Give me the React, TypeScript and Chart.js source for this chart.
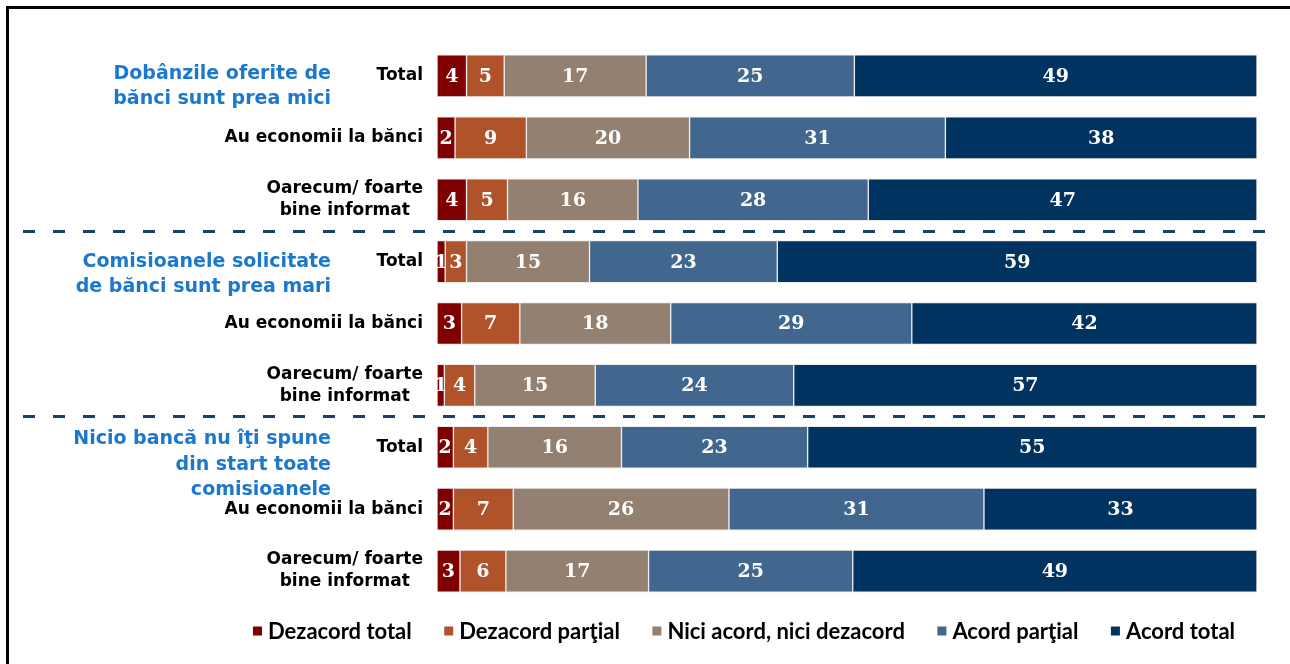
import React, { useEffect, useRef } from 'react';
import { Chart, registerables } from 'chart.js';
Chart.register(...registerables);

const rowLabels: string[][] = [
  ['Total'], ['Au economii la bănci'], ['Oarecum/ foarte', 'bine informat'],
  ['Total'], ['Au economii la bănci'], ['Oarecum/ foarte', 'bine informat'],
  ['Total'], ['Au economii la bănci'], ['Oarecum/ foarte', 'bine informat'],
];
const groupLabels: string[][] = [
  ['Dobânzile oferite de', 'bănci sunt prea mici'],
  ['Comisioanele solicitate', 'de bănci sunt prea mari'],
  ['Nicio bancă nu îţi spune', 'din start toate', 'comisioanele'],
];
const groupFirstRow = [0, 3, 6];
const seriesNames = ['Dezacord total', 'Dezacord parţial', 'Nici acord, nici dezacord', 'Acord parţial', 'Acord total'];
const seriesColors = ['#7f0000', '#b0532b', '#938070', '#41678f', '#00335f'];
const dezacordTotal = [3.6, 2.2, 3.6, 1.0, 3.0, 0.9, 2.0, 2.0, 2.8];
const dezacordPartial = [4.6, 8.7, 5.0, 2.6, 7.1, 3.7, 4.2, 7.3, 5.6];
const niciAcord = [17.3, 19.9, 15.9, 15.0, 18.4, 14.7, 16.3, 26.3, 17.4];
const acordPartial = [25.4, 31.2, 28.1, 22.9, 29.4, 24.2, 22.7, 31.1, 24.9];
const acordTotal = [49.1, 38.0, 47.4, 58.5, 42.1, 56.5, 54.8, 33.3, 49.3];
const seriesValues = [dezacordTotal, dezacordPartial, niciAcord, acordPartial, acordTotal];

const W = 1290;
const H = 664;

const overlay = {
  id: 'overlay',
  afterDatasetsDraw(chart: any) {
    const ctx = chart.ctx as CanvasRenderingContext2D;
    ctx.save();
    ctx.fillStyle = '#ffffff';
    ctx.font = 'bold 19px "DejaVu Serif"';
    ctx.textAlign = 'center';
    ctx.textBaseline = 'middle';
    chart.data.datasets.forEach((ds: any, di: number) => {
      const meta = chart.getDatasetMeta(di);
      meta.data.forEach((el: any, i: number) => {
        const v = Math.round(ds.data[i]);
        ctx.fillText(String(v), (el.x + el.base) / 2, el.y + 1);
      });
    });
    ctx.restore();
  },
  afterDraw(chart: any) {
    const ctx = chart.ctx as CanvasRenderingContext2D;
    const yScale = chart.scales.y;
    ctx.save();
    // frame
    ctx.strokeStyle = '#000';
    ctx.lineWidth = 3;
    ctx.beginPath();
    ctx.moveTo(W, 7.5);
    ctx.lineTo(7.5, 7.5);
    ctx.lineTo(7.5, H);
    ctx.stroke();

    // dashed separators between groups
    ctx.strokeStyle = '#17406d';
    ctx.lineWidth = 3;
    ctx.setLineDash([12, 18]);
    [2, 5].forEach((r) => {
      const y = Math.round((yScale.getPixelForValue(r) + yScale.getPixelForValue(r + 1)) / 2) + 0.5;
      ctx.beginPath();
      ctx.moveTo(23, y);
      ctx.lineTo(1278, y);
      ctx.stroke();
    });
    ctx.setLineDash([]);

    // row labels
    ctx.fillStyle = '#000';
    ctx.font = 'bold 17px "DejaVu Sans"';
    ctx.textBaseline = 'middle';
    ctx.textAlign = 'center';
    rowLabels.forEach((lines, i) => {
      const yc = yScale.getPixelForValue(i);
      const maxW = Math.max(...lines.map((l) => ctx.measureText(l).width));
      const cx = 423 - maxW / 2;
      const lh = 22;
      lines.forEach((l, j) => {
        ctx.fillText(l, cx, yc + (j - (lines.length - 1) / 2) * lh);
      });
    });

    // group labels
    ctx.fillStyle = '#1b78cc';
    ctx.font = 'bold 19px "DejaVu Sans"';
    ctx.textAlign = 'right';
    const offsets = [-2, 0, -8];
    groupLabels.forEach((lines, g) => {
      const y0 = yScale.getPixelForValue(groupFirstRow[g]) + offsets[g];
      lines.forEach((l, j) => {
        ctx.fillText(l, 331, y0 + j * 25.5);
      });
    });

    // legend
    ctx.font = 'bold 22px Lato';
    ctx.textAlign = 'left';
    const gap = 32.5;
    const box = 9;
    const widths = seriesNames.map((n) => box + 6 + ctx.measureText(n).width);
    const total = widths.reduce((a, b) => a + b, 0) + gap * (seriesNames.length - 1);
    let x = 744 - total / 2;
    const ly = 631;
    seriesNames.forEach((n, i) => {
      ctx.fillStyle = seriesColors[i];
      ctx.fillRect(x, ly - box / 2, box, box);
      ctx.fillStyle = '#000';
      ctx.fillText(n, x + box + 6, ly + 1);
      x += widths[i] + gap;
    });
    ctx.restore();
  },
};

export default function App() {
  const ref = useRef<HTMLCanvasElement | null>(null);
  useEffect(() => {
    if (!ref.current) return;
    const chart = new Chart(ref.current, {
      type: 'bar',
      data: {
        labels: rowLabels.map((l) => l.join(' ')),
        datasets: seriesNames.map((name, i) => ({
          label: name,
          data: seriesValues[i],
          backgroundColor: seriesColors[i],
          borderColor: 'rgba(235,235,235,0.9)',
          borderWidth: 1,
          borderSkipped: false,
          barThickness: 42,
        })),
      },
      options: {
        indexAxis: 'y',
        responsive: false,
        animation: false,
        devicePixelRatio: 1,
        layout: { padding: { left: 437, right: 33, top: 45, bottom: 62 } },
        scales: {
          x: { stacked: true, min: 0, max: 100, display: false },
          y: { stacked: true, display: false },
        },
        plugins: {
          legend: { display: false },
          tooltip: { enabled: false },
        },
      },
      plugins: [overlay],
    });
    return () => chart.destroy();
  }, []);
  return (
    <div style={{ position: 'absolute', left: 0, top: 0, width: W, height: H, background: '#fff' }}>
      <canvas ref={ref} width={W} height={H} style={{ width: W, height: H, display: 'block' }} />
    </div>
  );
}
